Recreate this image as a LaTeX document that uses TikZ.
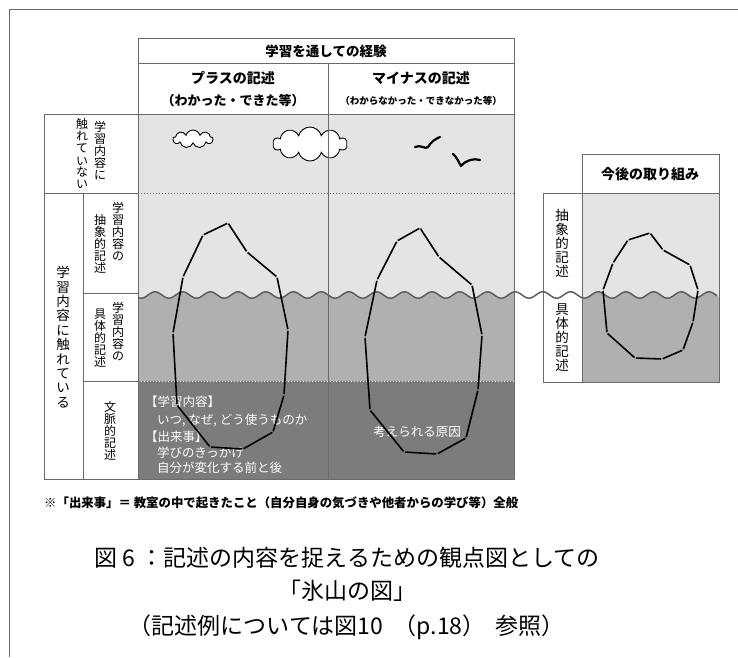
\documentclass[tikz,border=0pt]{standalone}
\usepackage{fontspec}
\setmainfont{Noto Sans CJK JP}
\usetikzlibrary{shapes.symbols}
\definecolor{skygray}{HTML}{E4E4E4}
\definecolor{seagray}{HTML}{B0B0B0}
\definecolor{deepgray}{HTML}{7C7C7C}
\definecolor{rulegray}{HTML}{6A6A6A}
\definecolor{wavegray}{HTML}{5E5E5E}

\begin{document}
\begin{tikzpicture}[x=1pt,y=-1pt,
  frame/.style={draw=rulegray, line width=0.9pt},
  cell/.style={draw=rulegray, line width=0.9pt},
  txt/.style={inner sep=0pt, font=\fontsize{#1}{#1}\selectfont},
  vlabel/.style={inner sep=0pt, align=center, font=\fontsize{#1}{#1}\selectfont},
  intext/.style={inner sep=0pt, anchor=west, text=white, font=\fontsize{12.5}{12.5}\selectfont},
  bergline/.style={line width=1.6pt, black, line cap=butt, shorten >=0.8pt, shorten <=0.8pt},
  wave/.style={wavegray, line width=1.5pt},
  cloudshape/.style={cloud, cloud puffs=#1, draw=black, line width=0.9pt, fill=white, inner sep=0pt},
  bird/.style={line width=2.2pt, line cap=round, line join=round},
  dotline/.style={dash pattern=on 1.2pt off 1.8pt, line width=0.9pt},
  caption/.style={inner sep=0pt, font=\fontsize{23}{23}\selectfont},
]
\useasboundingbox (0,0) rectangle (738,657);
\fill[white] (0,0) rectangle (738,657);

% page frame (top and left edges)
\draw[frame] (9.5,657) -- (9.5,9.5) -- (738,9.5);

% sea and sky of the main table (wave period 27.7, i.e. 12.996 deg per unit)
\fill[skygray] (138,114) rectangle (514,300);
\fill[seagray] plot[domain=138:514, samples=200] (\x,{295-3.2*cos((\x-155)*12.996)}) -- (514,381) -- (138,381) -- cycle;
\fill[deepgray] (138,381) rectangle (514,479);

% sea and sky of the side table
\fill[skygray] (582,193) rectangle (719,300);
\fill[seagray] plot[domain=582:719, samples=100] (\x,{295-3.2*cos((\x-155)*12.996)}) -- (719,382) -- (582,382) -- cycle;

% dotted level lines
\draw[rulegray, dotline] (138,193) -- (514,193);
\draw[white, dotline] (138,381) -- (514,381);
\draw[rulegray, dotline] (582,193) -- (719,193);

% texts in the deep area
\node[intext] (learnHead) at (145,402) {【学習内容】};
\node[intext] (learnBody) at (157,420) {いつ, なぜ, どう使うものか};
\node[intext] (eventHead) at (145,437) {【出来事】};
\node[intext] (eventA) at (157,453) {学びのきっかけ};
\node[intext] (eventB) at (157,468) {自分が変化する前と後};
\node[intext, anchor=center] (cause) at (417,432) {考えられる原因};

% clouds and birds
\node[cloudshape=9, minimum width=40pt, minimum height=18pt] (cloudA) at (193,139) {};
\node[cloudshape=10, minimum width=74pt, minimum height=34pt] (cloudB) at (310,144) {};
\draw[bird] (415,147) .. controls (420,144) and (426,150) .. (428,147) .. controls (431,142) and (435,139) .. (440,137);
\draw[bird] (453,154) .. controls (457,157) and (459,163) .. (461,166) .. controls (466,160) and (474,158) .. (480,160);

% table rules
\draw[cell, fill=white] (138,38) rectangle (514,63);
\draw[cell] (138,63) rectangle (514,479);
\draw[cell] (138,114) -- (514,114);
\draw[cell] (328,63) -- (328,479);
\draw[cell] (44,114) rectangle (138,479);
\draw[cell] (44,193) -- (138,193);
\draw[cell] (83,193) -- (83,479);
\draw[cell] (83,293) -- (138,293);
\draw[cell] (83,381) -- (138,381);
\draw[cell] (582,154) rectangle (719,382);
\draw[cell] (582,193) -- (719,193);
\draw[cell, fill=white] (543,193) rectangle (582,382);

% header texts
\node[txt=13.5, font=\fontsize{13.5}{13.5}\selectfont\bfseries] (exp) at (326,51) {学習を通しての経験};
\node[txt=14, font=\fontsize{14}{14}\selectfont\bfseries] (plus) at (233,78) {プラスの記述};
\node[txt=13, font=\fontsize{13}{13}\selectfont\bfseries] (plusEx) at (233,101) {（わかった・できた等）};
\node[txt=14, font=\fontsize{14}{14}\selectfont\bfseries] (minus) at (421,78) {マイナスの記述};
\node[txt=9.5, font=\fontsize{9.5}{9.5}\selectfont\bfseries] (minusEx) at (421,101) {（わからなかった・できなかった等）};
\node[txt=14, font=\fontsize{14}{14}\selectfont\bfseries] (future) at (650,174) {今後の取り組み};

% vertical row labels
\node[vlabel=12] (topA) at (100,151) {学\\習\\内\\容\\に};
\node[vlabel=12] (topB) at (82,154) {触\\れ\\て\\い\\な\\い};
\node[vlabel=13, font=\fontsize{13.5}{14.4}\selectfont] (touch) at (63,337) {学\\習\\内\\容\\に\\触\\れ\\て\\い\\る};
\node[vlabel=12] (absA) at (118,232) {学\\習\\内\\容\\の};
\node[vlabel=12] (absB) at (100,244) {抽\\象\\的\\記\\述};
\node[vlabel=12] (conA) at (118,332) {学\\習\\内\\容\\の};
\node[vlabel=12] (conB) at (100,338) {具\\体\\的\\記\\述};
\node[vlabel=12] (ctx) at (110,431) {文\\脈\\的\\記\\述};
\node[vlabel=13, font=\fontsize{13.5}{14}\selectfont] (rAbs) at (562,243) {抽\\象\\的\\記\\述};
\node[vlabel=13, font=\fontsize{13.5}{14}\selectfont] (rCon) at (562,338) {具\\体\\的\\記\\述};

% water line
\draw[wave] plot[domain=138:717, samples=400] (\x,{295-3.2*cos((\x-155)*12.996)});

% icebergs
\foreach \xx/\yy [count=\i] in {228/223,247/252,277/277,288/330,284/395,273/432,243/449,210/447,177/405,173/333,183/277,203/235}
  \coordinate (A\i) at (\xx,\yy);
\foreach \xx/\yy [count=\i] in {420/228,439/257,472/285,482/335,478/390,466/438,437/454,404/452,370/410,365/337,377/280,397/241}
  \coordinate (B\i) at (\xx,\yy);
\foreach \xx/\yy [count=\i] in {650/233,663/250,690/265,698/290,693/322,683/350,662/359,635/358,607/333,603/290,613/263,628/240}
  \coordinate (C\i) at (\xx,\yy);
\foreach \i [evaluate=\i as \j using {int(mod(\i,12)+1)}] in {1,...,12} {
  \draw[bergline] (A\i) -- (A\j);
  \draw[bergline] (B\i) -- (B\j);
  \draw[bergline] (C\i) -- (C\j);
}

% footnote and caption
\node[inner sep=0pt, anchor=west, font=\fontsize{12.4}{12.4}\selectfont\bfseries] (note) at (44,503) {※「出来事」＝ 教室の中で起きたこと（自分自身の気づきや他者からの学び等）全般};
\node[caption] (capA) at (347,558) {図 6 ：記述の内容を捉えるための観点図としての};
\node[caption] (capB) at (347,591) {「氷山の図」};
\node[caption] (capC) at (347,627) {（記述例については図10\hspace{0.45em}（p.18）\hspace{0.45em}参照）};
\end{tikzpicture}
\end{document}
